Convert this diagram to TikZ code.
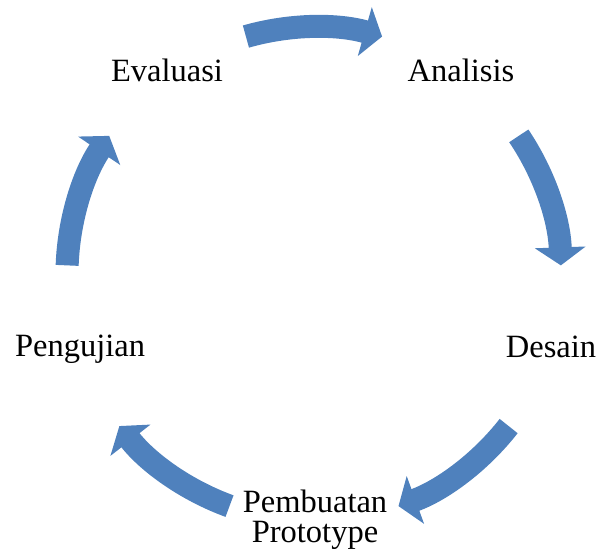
\documentclass[tikz,border=0pt]{standalone}
\usepackage{fontspec}
\setmainfont{Liberation Serif}
\usetikzlibrary{arrows.meta, calc}
\definecolor{cycblue}{HTML}{4F81BD}
\tikzset{
    label/.style = {font=\fontsize{18.5}{17}\selectfont, anchor=base, inner sep=0pt, align=center},
    cyc/.style = {draw=cycblue, line width=0.46cm, -{Triangle[length=0.36cm, width=1cm]}}
}
\begin{document}
\begin{tikzpicture}[x=0.02cm, y=0.02cm]
  \useasboundingbox (0,0) rectangle (598,551);

  \node[label] (evaluasi) at (167,469) {Evaluasi};
  \node[label] (analisis) at (461,469) {Analisis};
  \node[label] (desain) at (551,193) {Desain};
  \node[label] (prototype) at (315,9) {Pembuatan\\Prototype};
  \node[label] (pengujian) at (80,194) {Pengujian};

  % cycle arrows
  \coordinate (c) at (314,277);
  \draw[cyc] ($(c)+(106:247)$) arc[start angle=106, end angle=74, radius=247];
  \draw[cyc] ($(c)+(34:247)$) arc[start angle=34, end angle=2, radius=247];
  \draw[cyc] ($(c)+(-38:247)$) arc[start angle=-38, end angle=-70, radius=247];
  \draw[cyc] ($(c)+(-110:247)$) arc[start angle=-110, end angle=-142, radius=247];
  \draw[cyc] ($(c)+(178:247)$) arc[start angle=178, end angle=146, radius=247];
\end{tikzpicture}
\end{document}
